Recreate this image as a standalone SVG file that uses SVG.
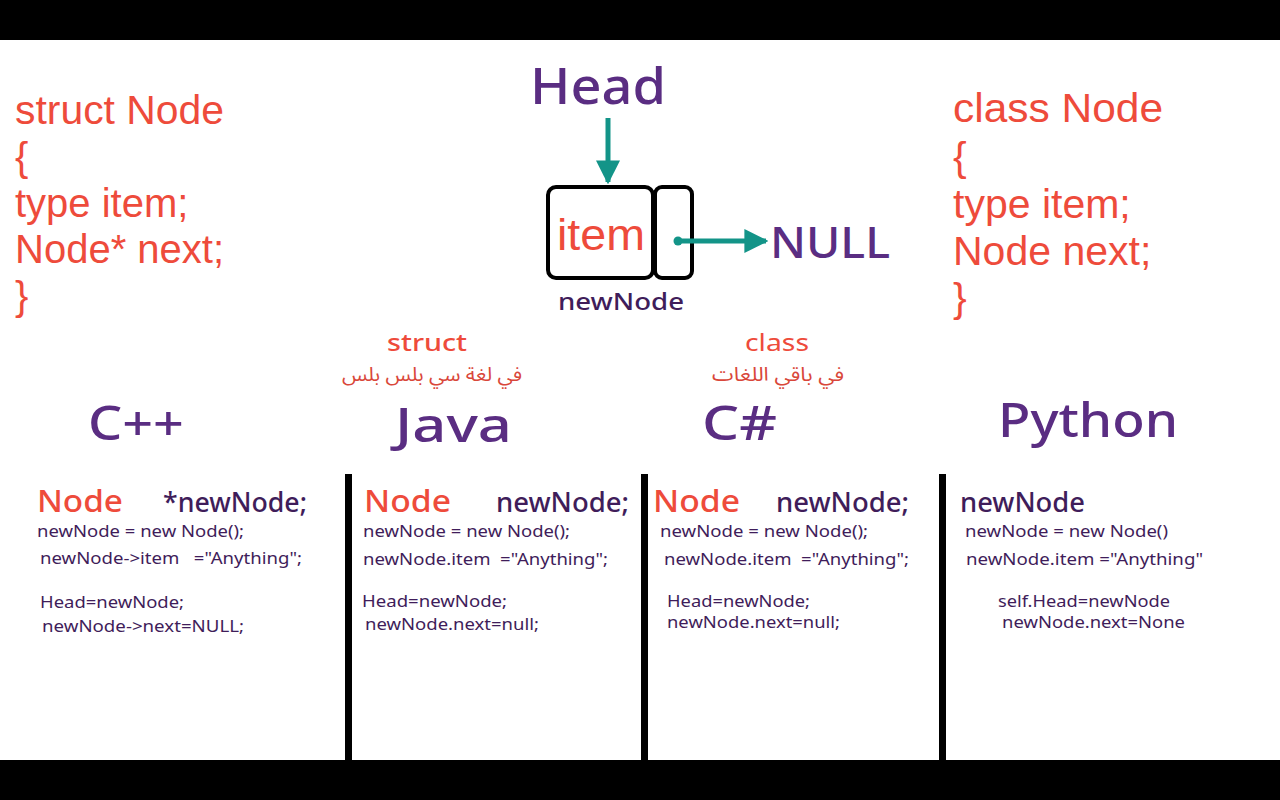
<svg xmlns="http://www.w3.org/2000/svg" width="1280" height="800" viewBox="0 0 1280 800">
  <style>
    .red { fill: #EE4B3B; font-family: "Liberation Sans", Arial, sans-serif; }
    .geo { font-family: "Noto Sans", "DejaVu Sans", sans-serif; }
    .title { fill: #5A2D82; font-weight: 500; }
    .kw { fill: #EE4B3B; font-weight: 500; }
    .code { fill: #3F1D5A; font-size: 16px; }
    .decl { fill: #3F1D5A; font-size: 27px; font-weight: 500; }
    .ar { fill: #D9473A; font-family: "Noto Sans Arabic", "DejaVu Sans", "Liberation Serif", serif; font-size: 19px; }
    .sep { fill: #000; }
  </style>
  <defs>
    <marker id="tealHead" viewBox="0 0 10 10" refX="9" refY="5" markerWidth="4.8" markerHeight="4.8" orient="auto" markerUnits="strokeWidth">
      <path d="M0,0 L10,5 L0,10 z" fill="#139488"/>
    </marker>
  </defs>

  <!-- page -->
  <rect x="0" y="0" width="1280" height="800" fill="#ffffff"/>
  <rect x="0" y="0" width="1280" height="40" fill="#000"/>
  <rect x="0" y="760" width="1280" height="40" fill="#000"/>

  <!-- C++ struct definition -->
  <g id="struct-def" class="red" font-size="40">
    <text x="15" y="124" textLength="209" lengthAdjust="spacingAndGlyphs">struct Node</text>
    <text x="15" y="171">{</text>
    <text x="15" y="217">type item;</text>
    <text x="15" y="263">Node* next;</text>
    <text x="15" y="310">}</text>
  </g>

  <!-- class definition -->
  <g id="class-def" class="red" font-size="41">
    <text x="953" y="122" textLength="210" lengthAdjust="spacingAndGlyphs">class Node</text>
    <text x="953" y="171">{</text>
    <text x="953" y="218">type item;</text>
    <text x="953" y="265">Node next;</text>
    <text x="953" y="312">}</text>
  </g>

  <!-- Head label -->
  <g id="head">
    <text class="geo title" x="598" y="104" font-size="50" text-anchor="middle" textLength="136" lengthAdjust="spacingAndGlyphs">Head</text>
  </g>

  <!-- node box -->
  <g id="new-node">
    <rect x="548" y="187" width="105" height="91" rx="8" fill="none" stroke="#000" stroke-width="4"/>
    <rect x="655" y="187" width="37" height="91" rx="7" fill="none" stroke="#000" stroke-width="4"/>
    <text class="red" x="557" y="250" font-size="44" textLength="88" lengthAdjust="spacingAndGlyphs">item</text>
    <text class="geo" x="621" y="310" font-size="23" fill="#3F1D5A" font-weight="500" text-anchor="middle" textLength="126" lengthAdjust="spacingAndGlyphs">newNode</text>
  </g>

  <!-- NULL label -->
  <g id="null">
    <text class="geo title" x="770" y="258" font-size="43" textLength="120" lengthAdjust="spacingAndGlyphs">NULL</text>
  </g>

  <!-- connectors -->
  <g id="connectors" stroke="#139488" stroke-width="5" fill="none">
    <line x1="608" y1="118" x2="608" y2="182" marker-end="url(#tealHead)"/>
    <circle cx="678" cy="241" r="4.5" fill="#139488" stroke="none"/>
    <line x1="678" y1="241" x2="766" y2="241" marker-end="url(#tealHead)"/>
  </g>

  <!-- notes -->
  <g id="note-struct">
    <text class="geo kw" x="427" y="351" font-size="24" text-anchor="middle" textLength="80" lengthAdjust="spacingAndGlyphs">struct</text>
    <text class="ar" x="432" y="381" text-anchor="middle" direction="rtl" textLength="180" lengthAdjust="spacingAndGlyphs">في لغة سي بلس بلس</text>
  </g>
  <g id="note-class">
    <text class="geo" x="777" y="351" font-size="24" fill="#EE4B3B" text-anchor="middle" textLength="64" lengthAdjust="spacingAndGlyphs">class</text>
    <text class="ar" x="778" y="381" text-anchor="middle" direction="rtl" textLength="132" lengthAdjust="spacingAndGlyphs">في باقي اللغات</text>
  </g>

  <!-- language headings -->
  <g id="lang-cpp"><text class="geo title" x="88" y="440" font-size="48" textLength="96" lengthAdjust="spacingAndGlyphs">C++</text></g>
  <g id="lang-java"><text class="geo title" x="395" y="442" font-size="47" textLength="117" lengthAdjust="spacingAndGlyphs">Java</text></g>
  <g id="lang-cs"><text class="geo title" x="702" y="440" font-size="47" textLength="75" lengthAdjust="spacingAndGlyphs">C#</text></g>
  <g id="lang-python"><text class="geo title" x="998" y="437" font-size="48" textLength="180" lengthAdjust="spacingAndGlyphs">Python</text></g>

  <!-- column separators -->
  <g id="separators">
    <rect class="sep" x="345" y="474" width="7" height="286"/>
    <rect class="sep" x="641" y="474" width="7" height="286"/>
    <rect class="sep" x="939" y="474" width="7" height="286"/>
  </g>

  <!-- C++ code -->
  <g id="code-cpp" class="geo">
    <text class="kw" x="37" y="512" font-size="30" textLength="86" lengthAdjust="spacingAndGlyphs">Node</text>
    <text class="decl" x="163" y="512" textLength="144" lengthAdjust="spacingAndGlyphs">*newNode;</text>
    <text class="code" x="37" y="537" textLength="207" lengthAdjust="spacingAndGlyphs">newNode = new Node();</text>
    <text class="code" x="40" y="564" textLength="262" lengthAdjust="spacingAndGlyphs" xml:space="preserve">newNode-&gt;item   ="Anything";</text>
    <text class="code" x="40" y="608" textLength="144" lengthAdjust="spacingAndGlyphs">Head=newNode;</text>
    <text class="code" x="42" y="632" textLength="202" lengthAdjust="spacingAndGlyphs">newNode-&gt;next=NULL;</text>
  </g>

  <!-- Java code -->
  <g id="code-java" class="geo">
    <text class="kw" x="364" y="512" font-size="30" textLength="87" lengthAdjust="spacingAndGlyphs">Node</text>
    <text class="decl" x="496" y="512" textLength="133" lengthAdjust="spacingAndGlyphs">newNode;</text>
    <text class="code" x="363" y="537" textLength="207" lengthAdjust="spacingAndGlyphs">newNode = new Node();</text>
    <text class="code" x="363" y="565" textLength="245" lengthAdjust="spacingAndGlyphs" xml:space="preserve">newNode.item  ="Anything";</text>
    <text class="code" x="362" y="607" textLength="145" lengthAdjust="spacingAndGlyphs">Head=newNode;</text>
    <text class="code" x="365" y="630" textLength="174" lengthAdjust="spacingAndGlyphs">newNode.next=null;</text>
  </g>

  <!-- C# code -->
  <g id="code-cs" class="geo">
    <text class="kw" x="653" y="512" font-size="30" textLength="87" lengthAdjust="spacingAndGlyphs">Node</text>
    <text class="decl" x="776" y="512" textLength="133" lengthAdjust="spacingAndGlyphs">newNode;</text>
    <text class="code" x="660" y="537" textLength="208" lengthAdjust="spacingAndGlyphs">newNode = new Node();</text>
    <text class="code" x="664" y="565" textLength="245" lengthAdjust="spacingAndGlyphs" xml:space="preserve">newNode.item  ="Anything";</text>
    <text class="code" x="667" y="607" textLength="143" lengthAdjust="spacingAndGlyphs">Head=newNode;</text>
    <text class="code" x="667" y="628" textLength="173" lengthAdjust="spacingAndGlyphs">newNode.next=null;</text>
  </g>

  <!-- Python code -->
  <g id="code-python" class="geo">
    <text class="decl" x="960" y="512" font-size="26" textLength="125" lengthAdjust="spacingAndGlyphs">newNode</text>
    <text class="code" x="965" y="537" textLength="203" lengthAdjust="spacingAndGlyphs">newNode = new Node()</text>
    <text class="code" x="966" y="565" textLength="237" lengthAdjust="spacingAndGlyphs">newNode.item ="Anything"</text>
    <text class="code" x="998" y="607" textLength="172" lengthAdjust="spacingAndGlyphs">self.Head=newNode</text>
    <text class="code" x="1002" y="628" textLength="183" lengthAdjust="spacingAndGlyphs">newNode.next=None</text>
  </g>
</svg>
